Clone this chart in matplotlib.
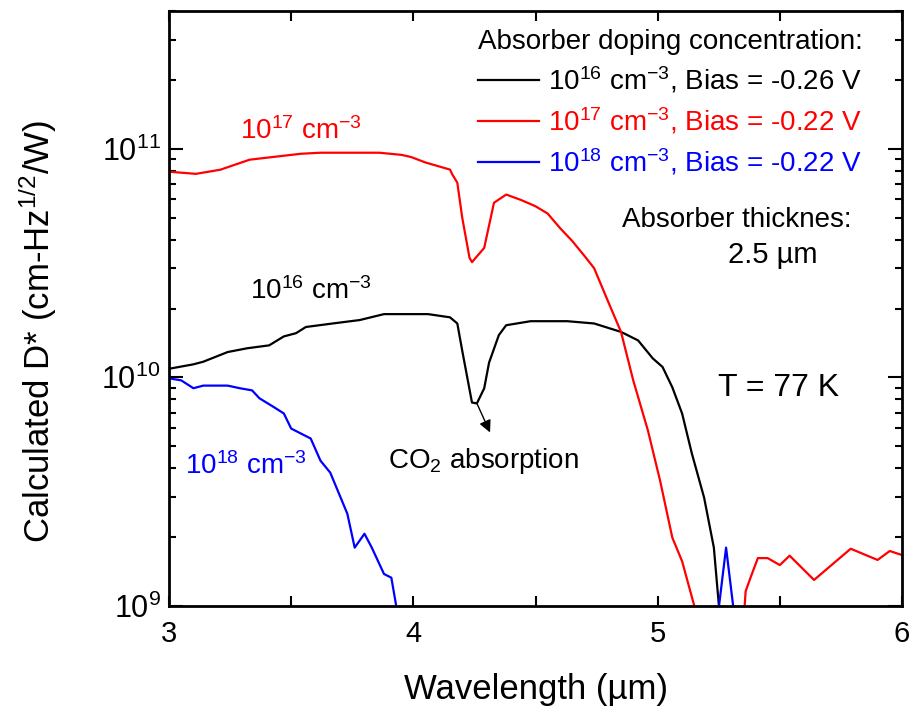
import matplotlib
matplotlib.use("Agg")
import matplotlib.pyplot as plt
from matplotlib.ticker import MultipleLocator, LogLocator, NullFormatter

plt.rcParams['font.family'] = ['Liberation Sans', 'DejaVu Sans']
plt.rcParams['mathtext.fontset'] = 'custom'
plt.rcParams['mathtext.rm'] = 'Liberation Sans'
plt.rcParams['mathtext.it'] = 'Liberation Sans:italic'
plt.rcParams['mathtext.bf'] = 'Liberation Sans:bold'
plt.rcParams['mathtext.default'] = 'regular'

# ---- data ----
x_1e16 = [3.00, 3.10, 3.14, 3.24, 3.32, 3.41, 3.47, 3.52, 3.56, 3.67, 3.78, 3.88, 4.06, 4.15, 4.18,
          4.20, 4.24, 4.26, 4.29, 4.31, 4.35, 4.38, 4.48, 4.63, 4.74, 4.85, 4.92, 4.98, 5.02, 5.06,
          5.10, 5.14, 5.19, 5.23, 5.25, 5.27]
d_1e16 = [1.09e10, 1.14e10, 1.17e10, 1.29e10, 1.34e10, 1.38e10, 1.51e10, 1.56e10, 1.66e10, 1.72e10,
          1.78e10, 1.89e10, 1.89e10, 1.83e10, 1.72e10, 1.31e10, 7.76e9, 7.69e9, 8.95e9, 1.16e10,
          1.53e10, 1.69e10, 1.76e10, 1.76e10, 1.72e10, 1.58e10, 1.45e10, 1.21e10, 1.11e10, 9.04e9,
          6.95e9, 4.64e9, 2.98e9, 1.80e9, 1.02e9, 8.0e8]

x_1e17 = [3.00, 3.11, 3.21, 3.33, 3.54, 3.62, 3.86, 3.95, 3.99, 4.05, 4.15, 4.16, 4.18, 4.20, 4.23,
          4.24, 4.29, 4.33, 4.38, 4.44, 4.50, 4.55, 4.60, 4.65, 4.70, 4.74, 4.80, 4.85, 4.90, 4.96,
          5.01, 5.06, 5.10, 5.15, 5.16, 5.35, 5.36, 5.38, 5.41, 5.45, 5.50, 5.54, 5.64, 5.79, 5.90,
          5.95, 6.00]
d_1e17 = [7.93e10, 7.76e10, 8.09e10, 8.95e10, 9.50e10, 9.60e10, 9.60e10, 9.40e10, 9.20e10, 8.70e10,
          8.10e10, 7.70e10, 7.10e10, 5.0e10, 3.33e10, 3.19e10, 3.68e10, 5.80e10, 6.30e10, 5.97e10,
          5.60e10, 5.20e10, 4.50e10, 3.95e10, 3.40e10, 3.00e10, 2.11e10, 1.58e10, 9.70e9, 5.86e9,
          3.53e9, 1.99e9, 1.57e9, 1.0e9, 8.0e8, 8.0e8, 1.16e9, 1.33e9, 1.62e9, 1.62e9, 1.51e9,
          1.66e9, 1.30e9, 1.78e9, 1.59e9, 1.74e9, 1.67e9]

x_1e18 = [3.00, 3.05, 3.10, 3.14, 3.24, 3.29, 3.34, 3.37, 3.43, 3.47, 3.50, 3.58, 3.62, 3.66, 3.73,
          3.76, 3.80, 3.83, 3.88, 3.91, 3.93, 3.94, 5.24, 5.28, 5.32]
d_1e18 = [9.9e9, 9.7e9, 8.96e9, 9.2e9, 9.2e9, 8.96e9, 8.77e9, 8.1e9, 7.4e9, 6.95e9, 5.97e9, 5.4e9,
          4.32e9, 3.83e9, 2.53e9, 1.80e9, 2.07e9, 1.80e9, 1.38e9, 1.33e9, 1.0e9, 8.0e8,
          8.0e8, 1.80e9, 8.0e8]

labels = [r"10$^{16}$ cm$^{-3}$, Bias = -0.26 V",
          r"10$^{17}$ cm$^{-3}$, Bias = -0.22 V",
          r"10$^{18}$ cm$^{-3}$, Bias = -0.22 V"]
colors = ["black", "#ff0000", "#0000ff"]

xlim = (3, 6)
ylim = (1e9, 4e11)
xticks = [3, 4, 5, 6]

# ---- figure ----
fig = plt.figure(figsize=(9.14, 7.13), dpi=100)
ax = fig.add_axes([169/914, 1-606/713, (902-169)/914, (606-11)/713])

l1, = ax.plot(x_1e16, d_1e16, color=colors[0], lw=1.6, label=labels[0])
l2, = ax.plot(x_1e17, d_1e17, color=colors[1], lw=1.6, label=labels[1])
l3, = ax.plot(x_1e18, d_1e18, color=colors[2], lw=1.6, label=labels[2])

ax.set_yscale('log')
ax.set_xlim(*xlim)
ax.set_ylim(*ylim)
ax.set_xticks(xticks)
ax.xaxis.set_minor_locator(MultipleLocator(0.5))
ax.yaxis.set_major_locator(LogLocator(base=10, numticks=10))
ax.yaxis.set_minor_locator(LogLocator(base=10, subs=range(2, 10), numticks=20))
ax.yaxis.set_minor_formatter(NullFormatter())

for s in ax.spines.values():
    s.set_linewidth(2.0)
ax.tick_params(which='both', direction='in', top=True, right=True, width=1.5)
ax.tick_params(axis='x', which='both', length=7)
ax.tick_params(axis='y', which='major', length=10)
ax.tick_params(axis='y', which='minor', length=5)
ax.tick_params(axis='x', which='major', labelsize=21, pad=10)
ax.tick_params(axis='y', which='major', labelsize=22, pad=6)

ax.set_xlabel("Wavelength (µm)", fontsize=25, labelpad=18)
ax.set_ylabel(r"Calculated D* (cm-Hz$^{1/2}$/W)", fontsize=25)
ax.yaxis.set_label_coords(-0.150, 0.462)

leg = ax.legend(handles=[l1, l2, l3], loc='upper left', bbox_to_anchor=(0.421, 0.970),
                frameon=False, fontsize=20, title="Absorber doping concentration:",
                title_fontsize=20, handlelength=2.2, handletextpad=0.35, labelspacing=0.36,
                borderpad=0, borderaxespad=0, alignment='left')
for t, c in zip(leg.get_texts(), colors):
    t.set_color(c)

ax.text(3.29, 1.19e11, r"10$^{17}$ cm$^{-3}$", color=colors[1], fontsize=20, ha='left', va='center')
ax.text(3.33, 2.38e10, r"10$^{16}$ cm$^{-3}$", color=colors[0], fontsize=20, ha='left', va='center')
ax.text(3.065, 4.11e9, r"10$^{18}$ cm$^{-3}$", color=colors[2], fontsize=20, ha='left', va='center')
ax.text(3.895, 4.32e9, r"CO$_2$ absorption", color='black', fontsize=20, ha='left', va='center')
ax.text(5.247, 8.96e9, "T = 77 K", color='black', fontsize=23, ha='left', va='center')
ax.text(4.854, 4.89e10, "Absorber thicknes:", color='black', fontsize=20, ha='left', va='center')
ax.text(5.288, 3.43e10, "2.5 µm", color='black', fontsize=21, ha='left', va='center')

ax.annotate("", xy=(4.314, 5.74e9), xytext=(4.26, 7.7e9),
            arrowprops=dict(arrowstyle='-|>', color='black', lw=1.0, mutation_scale=18,
                            shrinkA=0, shrinkB=0))

fig.savefig("out.png", dpi=100)
